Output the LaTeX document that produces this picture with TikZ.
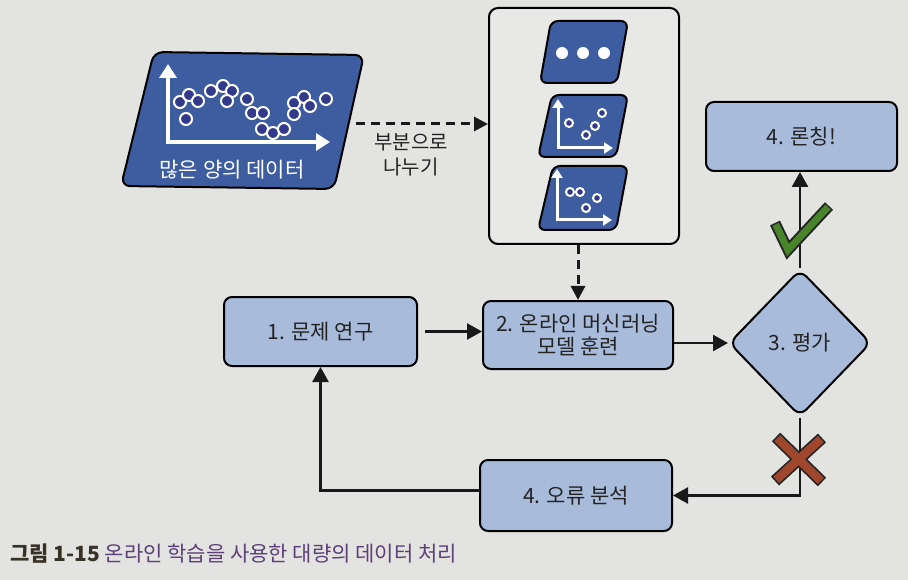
\documentclass[tikz,border=0pt]{standalone}
\usepackage{fontspec}
\setmainfont{Noto Sans CJK KR}
\usetikzlibrary{arrows.meta,shapes.geometric,calc}
\definecolor{bg}{RGB}{227,227,225}
\definecolor{boxblue}{RGB}{168,187,219}
\definecolor{dblue}{RGB}{62,92,160}
\definecolor{dotblue}{RGB}{50,58,140}
\definecolor{textc}{RGB}{35,35,35}
\definecolor{checkgreen}{RGB}{72,132,42}
\definecolor{xred}{RGB}{160,70,45}
\definecolor{capdark}{RGB}{55,50,38}
\definecolor{cappurple}{RGB}{92,64,120}
\definecolor{contfill}{RGB}{232,232,230}
\tikzset{
  box/.style={draw=black, line width=2pt, rounded corners=8pt, fill=boxblue,
    text=textc, align=center, inner sep=0pt,
    font=\fontsize{21}{23.5}\selectfont},
  container/.style={draw=black, line width=2pt, rounded corners=9pt, fill=contfill, inner sep=0pt},
  decision/.style={diamond, draw=black, line width=2pt, rounded corners=9pt, fill=boxblue,
    text=textc, inner sep=0pt, aspect=1, font=\fontsize{21}{23.5}\selectfont},
  arr/.style={line width=2.5pt, draw=black!90, -{Triangle[length=15pt,width=16pt]}},
  dasharr/.style={line width=3pt, draw=black!90, dash pattern=on 9pt off 6pt,
    -{Triangle[length=14pt,width=14pt]}},
  para/.style={draw=black, line width=2pt, fill=dblue, rounded corners=7pt},
  waxis/.style={draw=white, line width=4.5pt, -{Triangle[length=14pt,width=17pt]}},
  saxis/.style={draw=white, line width=3pt, -{Triangle[length=9pt,width=11pt]}},
  bigdot/.style={draw=white, line width=2pt, fill=dotblue},
  smalldot/.style={draw=white, line width=2pt, fill=dotblue},
  lbl/.style={text=textc, align=center, inner sep=0pt, font=\fontsize{20}{25}\selectfont},
}
\begin{document}
\begin{tikzpicture}[x=1pt,y=-1pt]
\fill[bg] (0,0) rectangle (908,580);
\useasboundingbox (0,0) rectangle (908,580);

% big data parallelogram
\draw[para, rounded corners=9pt] (154,52) -- (364,55) -- (334,189) -- (121,186) -- cycle;
\draw[waxis] (168,142) -- (168,64);
\draw[waxis] (166,142) -- (330,142);
\foreach \p in {(180,102),(189,95),(198,101),(186,119),(211,91),(223,86),(232,91),(227,101),
  (247,99),(252,113),(263,113),(262,129),(273,133),(284,129),(294,103),(294,114),(304,97),(310,106),(326,99)}
  \draw[bigdot] \p circle[radius=6];
\node[text=white, inner sep=0pt, font=\fontsize{21}{23}\selectfont] (datalbl) at (232,170) {많은 양의 데이터};
\coordinate (dataE) at (356,124);

% container
\node[container, minimum width=190pt, minimum height=236pt] (split) at (584,126) {};
\draw[para] (551,21) -- (628,21) -- (617,83) -- (540,83) -- cycle;
\foreach \x in {562,583,604} \fill[white] (\x,53) circle[radius=6];
\draw[para] (552,95) -- (628,95) -- (616,157) -- (538,157) -- cycle;
\draw[saxis] (558,148) -- (558,99);
\draw[saxis] (556.5,148) -- (613,148);
\foreach \p in {(569,123),(602,113),(595,126),(586,135)} \draw[smalldot] \p circle[radius=4];
\draw[para] (553,166) -- (628,166) -- (616,230) -- (538,230) -- cycle;
\draw[saxis] (557,220) -- (557,169);
\draw[saxis] (555.5,220) -- (612,220);
\foreach \p in {(570,192),(580,192),(597,198),(586,208)} \draw[smalldot] \p circle[radius=4];

% main boxes
\node[box, minimum width=193pt, minimum height=69pt] (research) at (320.5,331.5) {1. 문제 연구};
\node[box, minimum width=190pt, minimum height=68pt] (train) at (578,335) {2. 온라인 머신러닝\\모델 훈련};
\node[decision, minimum width=142pt, minimum height=147pt] (eval) at (800,343) {3. 평가};
\node[box, minimum width=191pt, minimum height=69pt] (launch) at (801.5,136.5) {4. 론칭!};
\node[box, minimum width=192pt, minimum height=71pt] (error) at (576,495.5) {4. 오류 분석};

% split label
\node[lbl] (splitlbl) at (411,155) {부분으로\\나누기};

% connectors
\draw[dasharr] (dataE) -- (dataE -| split.west);
\draw[dasharr] (split.south -| train.north) -- (train.north);
\draw[arr] ([xshift=7pt]research.east) -- (train.west |- research.east);
\draw[arr] (train.east |- eval.west) -- (eval.west);
\draw[arr] (eval.north) -- (eval.north |- launch.south);
\draw[arr] (eval.south) |- (error.east);
\draw[arr] ([yshift=5pt]error.west) -| (research.south);

% check mark
\draw[line width=11pt, black!85, line join=miter] (775,223) -- (788,250) -- (829,206);
\draw[line width=7pt, checkgreen, line join=miter, shorten <=1.5pt, shorten >=1.5pt] (775,223) -- (788,250) -- (829,206);
% cross
\draw[line width=12pt, black!85] (776,437) -- (822,482);
\draw[line width=12pt, black!85] (822,438) -- (775,481);
\draw[line width=8.5pt, xred, shorten <=1.7pt, shorten >=1.7pt] (776,437) -- (822,482);
\draw[line width=8.5pt, xred, shorten <=1.7pt, shorten >=1.7pt] (822,438) -- (775,481);

% caption
\node[anchor=base west, inner sep=0pt, font=\fontsize{21}{23}\selectfont] (caption) at (10,561)
  {{\bfseries\color{capdark}그림 1-15} {\color{cappurple}온라인 학습을 사용한 대량의 데이터 처리}};
\end{tikzpicture}
\end{document}
